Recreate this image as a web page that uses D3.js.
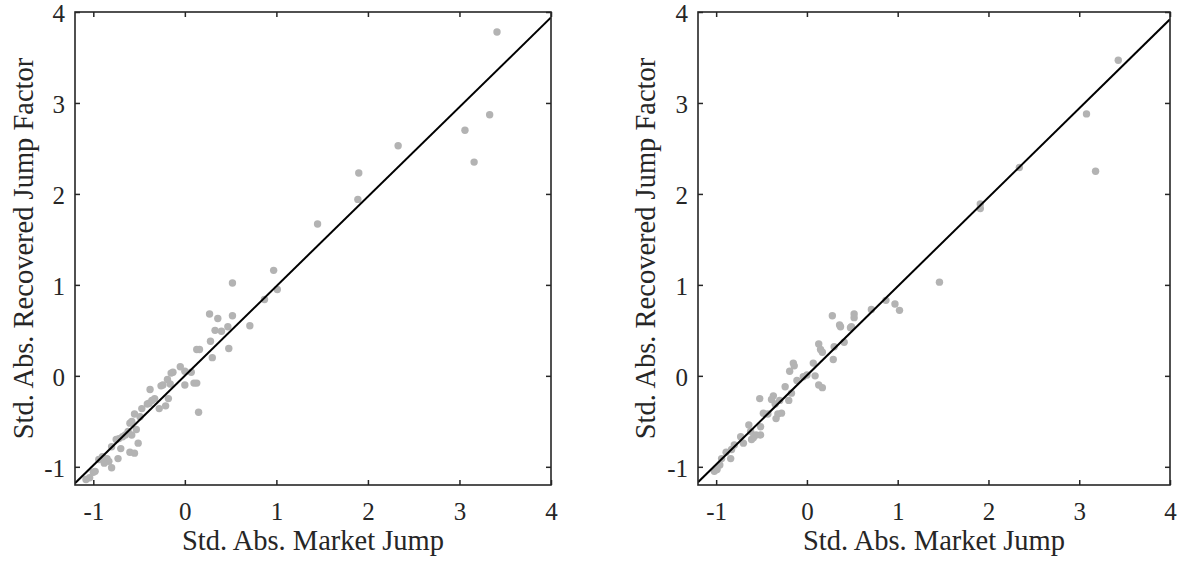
<!DOCTYPE html>
<html><head><meta charset="utf-8">
<script src="https://cdn.jsdelivr.net/npm/d3@7"></script>
<style>body{margin:0;background:#fff}svg{display:block}</style>
</head><body>
<svg id="c" width="1180" height="563"></svg>
<script>
const xTicks = [-1, 0, 1, 2, 3, 4];
const yTicks = [-1, 0, 1, 2, 3, 4];
const xLabel = "Std. Abs. Market Jump";
const yLabel = "Std. Abs. Recovered Jump Factor";

// Left panel points [x, y]
const leftPoints = [
 [3.41,3.78],[3.33,2.87],[3.06,2.70],[3.16,2.35],[2.33,2.53],[1.90,2.23],[1.89,1.94],[1.45,1.67],
 [0.97,1.16],[1.01,0.95],[0.52,1.02],[0.87,0.84],[0.71,0.55],[0.27,0.68],[0.36,0.63],[0.52,0.66],
 [0.33,0.50],[0.40,0.49],[0.47,0.54],[0.28,0.38],[0.48,0.30],[0.13,0.29],[0.16,0.29],[0.30,0.20],
 [-0.05,0.10],[0.00,0.05],[-0.13,0.04],[-0.15,0.03],[0.07,0.04],[0.00,-0.10],[0.10,-0.08],[0.13,-0.08],
 [0.15,-0.40],[-0.19,-0.04],[-0.24,-0.10],[-0.26,-0.11],[-0.16,-0.09],[-0.18,-0.25],[-0.21,-0.33],
 [-0.28,-0.36],[-0.38,-0.15],[-0.33,-0.25],[-0.36,-0.27],[-0.41,-0.31],[-0.39,-0.30],[-0.47,-0.36],
 [-0.49,-0.45],[-0.55,-0.42],[-0.60,-0.52],[-0.58,-0.50],[-0.62,-0.61],[-0.58,-0.65],[-0.53,-0.59],
 [-0.51,-0.74],[-0.60,-0.84],[-0.55,-0.85],[-0.65,-0.65],[-0.68,-0.67],[-0.72,-0.69],[-0.75,-0.70],
 [-0.80,-0.78],[-0.70,-0.80],[-0.73,-0.91],[-0.85,-0.91],[-0.83,-0.94],[-0.90,-0.89],[-0.94,-0.92],
 [-0.80,-1.01],[-0.98,-1.05],[-1.00,-1.06],[-1.04,-1.12],[-1.08,-1.14],[-0.88,-0.96]
];
// Right panel points [x, y]
const rightPoints = [
 [3.43,3.47],[3.08,2.88],[3.18,2.25],[2.34,2.29],[1.91,1.89],[1.91,1.84],[1.46,1.03],
 [1.02,0.72],[0.97,0.79],[0.87,0.83],[0.71,0.73],[0.52,0.68],[0.52,0.64],[0.49,0.54],
 [0.28,0.66],[0.36,0.56],[0.37,0.54],[0.48,0.53],[0.41,0.37],[0.30,0.32],[0.29,0.18],
 [0.13,0.35],[0.15,0.29],[0.17,0.26],[0.07,0.14],[0.09,0.00],[0.13,-0.10],[0.17,-0.13],
 [0.00,0.01],[-0.04,-0.01],[-0.11,-0.05],[-0.15,0.14],[-0.14,0.11],[-0.19,0.05],[-0.24,-0.12],
 [-0.17,-0.19],[-0.20,-0.27],[-0.28,-0.41],[-0.32,-0.42],[-0.37,-0.22],[-0.39,-0.26],[-0.30,-0.27],
 [-0.35,-0.31],[-0.52,-0.25],[-0.43,-0.42],[-0.48,-0.41],[-0.34,-0.47],[-0.51,-0.56],[-0.51,-0.65],
 [-0.56,-0.65],[-0.59,-0.68],[-0.64,-0.54],[-0.62,-0.61],[-0.70,-0.74],[-0.73,-0.67],[-0.80,-0.76],
 [-0.83,-0.81],[-0.89,-0.84],[-0.94,-0.91],[-0.96,-0.98],[-0.99,-1.03],[-1.02,-1.05],[-0.84,-0.91],
 [-0.61,-0.70]
];
// Fitted line [x0, y0, x1, y1] per panel (value space)
const leftLine = [-1.2, -1.18, 4.0, 3.94];
const rightLine = [-1.2, -1.17, 4.0, 3.92];
const domainX = [-1.2, 4];
const domainY = [-1.2, 4];

const svg = d3.select("#c");
const FONT = "'Liberation Serif', 'Times New Roman', serif";
const INK = "#262626";

function panel(left, right, top, bottom, points, line, labelX) {
  const x = d3.scaleLinear().domain(domainX).range([left, right]);
  const y = d3.scaleLinear().domain(domainY).range([bottom, top]);
  const g = svg.append("g");
  const clipId = "clip" + left;
  g.append("clipPath").attr("id", clipId).append("rect")
    .attr("x", left).attr("y", top).attr("width", right-left).attr("height", bottom-top);
  g.append("g").attr("clip-path", `url(#${clipId})`).selectAll("circle").data(points).join("circle")
    .attr("cx", d => x(d[0])).attr("cy", d => y(d[1])).attr("r", 3.7).attr("fill", "#b3b3b3");
  g.append("line").attr("clip-path", `url(#${clipId})`)
    .attr("x1", x(line[0])).attr("y1", y(line[1])).attr("x2", x(line[2])).attr("y2", y(line[3]))
    .attr("stroke", "#000").attr("stroke-width", 2);
  const tl = 5;
  const fmt = d => String(d);
  const axB = d3.axisBottom(x).tickValues(xTicks).tickSize(-tl).tickFormat(fmt);
  const axT = d3.axisTop(x).tickValues(xTicks).tickSize(-tl).tickFormat("");
  const axL = d3.axisLeft(y).tickValues(yTicks).tickSize(-tl).tickPadding(10).tickFormat(fmt);
  const axR = d3.axisRight(y).tickValues(yTicks).tickSize(-tl).tickFormat("");
  const style = sel => {
    sel.select(".domain").remove();
    sel.selectAll("line").attr("stroke", INK).attr("stroke-width", 1.5);
    sel.selectAll("text").attr("font-family", FONT).attr("font-size", 25).attr("fill", INK);
  };
  g.append("g").attr("transform", `translate(0,${bottom})`).call(axB).call(style)
    .selectAll("text").attr("y", 35).attr("dy", 0);
  g.append("g").attr("transform", `translate(0,${top})`).call(axT).call(style);
  g.append("g").attr("transform", `translate(${left},0)`).call(axL).call(style)
    .selectAll("text").attr("dy", "0.38em");
  g.append("g").attr("transform", `translate(${right},0)`).call(axR).call(style);
  g.append("rect").attr("x", left).attr("y", top).attr("width", right-left).attr("height", bottom-top)
    .attr("fill", "none").attr("stroke", INK).attr("stroke-width", 1.6);
  g.append("text").attr("x", (left+right)/2).attr("y", 550).attr("text-anchor", "middle")
    .attr("font-family", FONT).attr("font-size", 28.5).attr("fill", INK).text(xLabel);
  g.append("text").attr("transform", `translate(${labelX},${(top+bottom)/2}) rotate(-90)`)
    .attr("text-anchor", "middle").attr("font-family", FONT).attr("font-size", 28.5)
    .attr("fill", INK).text(yLabel);
}
panel(75, 551, 12, 485, leftPoints, leftLine, 33);
panel(698, 1170, 12, 485, rightPoints, rightLine, 655);
</script>
</body></html>
